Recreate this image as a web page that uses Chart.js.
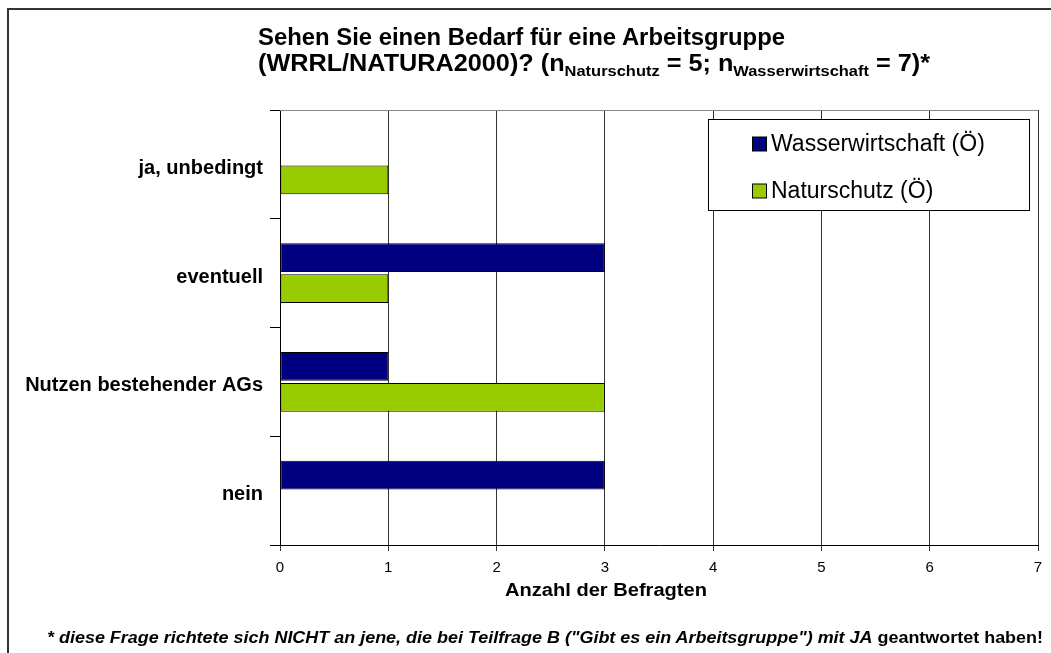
<!DOCTYPE html>
<html>
<head>
<meta charset="utf-8">
<script src="https://cdn.jsdelivr.net/npm/chart.js@4"></script>
<style>
  html, body { margin: 0; padding: 0; background: #fff; }
  #wrap { position: relative; width: 1051px; height: 653px; overflow: hidden; }
  #frame { position: absolute; left: 7px; top: 8px; width: 2000px; height: 2000px;
           border-left: 2px solid #333; border-top: 2px solid #333; }
  canvas { position: absolute; left: 0; top: 0; }
  .title { position: absolute; left: 258px; font: bold 23px "Liberation Sans", Arial, sans-serif;
           line-height: 23px; white-space: nowrap; color: #000; transform-origin: 0 0; }
  .title sub { font-size: 15px; vertical-align: -5px; line-height: 0; }
  #xtitle { position: absolute; left: 505px; top: 580px; line-height: 18px; white-space: nowrap;
            font: bold 18px "Liberation Sans", Arial, sans-serif; transform-origin: 0 0; color: #000; }
  #foot { position: absolute; top: 629px; left: 47px; line-height: 16px; white-space: nowrap;
          font: bold italic 16px "Liberation Sans", Arial, sans-serif;
          transform-origin: 0 0; color: #000; }
  #foot span { font-style: normal; }
</style>
</head>
<body>
<div id="wrap">
  <div id="frame"></div>
  <canvas id="grafico" width="1051" height="653"></canvas>
  <div class="title" id="t1" style="top:26px">Sehen Sie einen Bedarf für eine Arbeitsgruppe</div>
  <div class="title" id="t2" style="top:52px">(WRRL/NATURA2000)? (n<sub>Naturschutz</sub> = 5; n<sub>Wasserwirtschaft</sub> = 7)*</div>
  <div id="xtitle">Anzahl der Befragten</div>
  <div id="foot">* diese Frage richtete sich NICHT an jene, die bei Teilfrage B ("Gibt es ein Arbeitsgruppe") mit JA<span> geantwortet haben!</span></div>
</div>
<script>
// Daten aus dem Diagramm
const categories = ['ja, unbedingt', 'eventuell', 'Nutzen bestehender AGs', 'nein'];
const wasserwirtschaft = [0, 3, 1, 3];
const naturschutz = [1, 1, 3, 0];
const xMin = 0;
const xMax = 7;

// Texte auf Zielbreite bringen
function fitWidth(id, target) {
  const el = document.getElementById(id);
  const w = el.getBoundingClientRect().width;
  el.style.transform = 'scaleX(' + (target / w) + ')';
}
fitWidth('t1', 527);
fitWidth('t2', 672);
fitWidth('xtitle', 202);
fitWidth('foot', 996);

const boxLegend = {
  id: 'boxLegend',
  afterDraw(chart) {
    const c = chart.ctx;
    c.save();
    c.fillStyle = '#fff';
    c.fillRect(708.5, 119.5, 321, 91);
    c.strokeStyle = '#000';
    c.lineWidth = 1;
    c.strokeRect(708.5, 119.5, 321, 91);
    c.font = '23px "Liberation Sans", Arial, sans-serif';
    c.textBaseline = 'middle';
    chart.data.datasets.forEach(function (ds, i) {
      const y = 144 + i * 47;
      c.fillStyle = ds.backgroundColor;
      c.fillRect(752.5, y - 7, 14, 14);
      c.strokeRect(752.5, y - 7, 14, 14);
      c.fillStyle = '#000';
      c.fillText(ds.label, 771, y + 1);
    });
    c.restore();
  }
};

const topLine = {
  id: 'topLine',
  beforeDatasetsDraw(chart) {
    const a = chart.chartArea;
    const c = chart.ctx;
    c.save();
    c.strokeStyle = '#888';
    c.lineWidth = 1;
    c.beginPath();
    c.moveTo(a.left, a.top + 0.5);
    c.lineTo(a.right, a.top + 0.5);
    c.stroke();
    c.restore();
  }
};

const ctx = document.getElementById('grafico').getContext('2d');
const chart = new Chart(ctx, {
  type: 'bar',
  data: {
    labels: categories,
    datasets: [{
      label: 'Wasserwirtschaft (Ö)',
      data: wasserwirtschaft,
      backgroundColor: '#000080',
      borderColor: '#000',
      borderWidth: c => (c.raw === 0 ? 0 : 1),
      borderSkipped: false,
      categoryPercentage: 0.57,
      barPercentage: 0.935
    }, {
      label: 'Naturschutz (Ö)',
      data: naturschutz,
      backgroundColor: '#99CC00',
      borderColor: '#000',
      borderWidth: c => (c.raw === 0 ? 0 : 1),
      borderSkipped: false,
      categoryPercentage: 0.57,
      barPercentage: 0.935
    }]
  },
  options: {
    indexAxis: 'y',
    responsive: false,
    animation: false,
    layout: { padding: { left: 0, right: 13, top: 110, bottom: 55 } },
    plugins: {
      legend: { display: false },
      tooltip: { enabled: false }
    },
    scales: {
      x: {
        min: xMin,
        max: xMax,
        ticks: {
          stepSize: 1,
          color: '#000',
          padding: 8,
          font: { family: '"Liberation Sans", Arial', size: 15 }
        },
        grid: { color: '#333', tickLength: 6 },
        border: { color: '#000' },
        afterFit(s) { s.height = 53; }
      },
      y: {
        grid: { offset: true, drawOnChartArea: false, tickLength: 10, color: '#000' },
        border: { color: '#000' },
        ticks: {
          color: '#000',
          padding: 7,
          labelOffset: 4,
          font: { family: '"Liberation Sans", Arial', size: 20, weight: 'bold' }
        },
        afterFit(s) { s.width = 280; }
      }
    }
  },
  plugins: [topLine, boxLegend]
});
</script>
</body>
</html>
